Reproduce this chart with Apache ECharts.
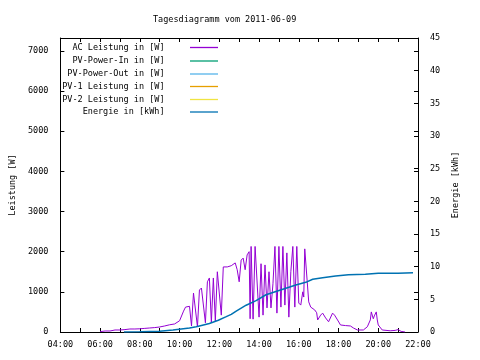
<!DOCTYPE html>
<html><head><meta charset="utf-8">
<script src="https://cdn.jsdelivr.net/npm/echarts@6/dist/echarts.min.js"></script>
<style>html,body{margin:0;padding:0;background:#fff}#c{width:480px;height:360px}</style>
</head><body><div id="c"></div>
<script>
const title = 'Tagesdiagramm vom 2011-06-09';
const seriesNames = ['AC Leistung in [W]','PV-Power-In in [W]','PV-Power-Out in [W]','PV-1 Leistung in [W]','PV-2 Leistung in [W]','Energie in [kWh]'];
const seriesColors = ['#9400d3','#009e73','#56b4e9','#e69f00','#f0e442','#0072b2'];

const acTimes = ['06:00','06:15','06:30','06:45','07:00','07:15','07:30','07:45','08:00','08:15','08:30','08:45','09:00','09:15','09:30','09:45',
'10:00','10:06','10:12','10:18','10:24','10:30','10:36','10:42','10:48','10:54','11:00','11:06','11:12','11:18','11:24','11:30','11:36','11:42','11:48','11:54',
'12:00','12:06','12:12','12:18','12:24','12:30','12:36','12:42','12:48','12:54','13:00','13:06','13:12','13:18','13:24','13:30','13:33','13:36','13:42','13:48','13:54',
'14:00','14:06','14:12','14:18','14:24','14:30','14:36','14:42','14:48','14:54','15:00','15:06','15:12','15:18','15:24','15:30','15:36','15:42','15:48','15:54',
'16:00','16:06','16:12','16:15','16:18','16:24','16:30','16:36','16:42','16:48','16:54','16:57','17:00','17:06','17:12','17:18','17:21','17:30','17:42','17:48','17:57',
'18:06','18:21','18:36','18:45','18:57','19:15','19:27','19:36','19:39','19:45','19:48','19:54','19:57','20:00','20:12','20:36','20:51','21:00','21:09','21:21'];
const acPower = [10,25,25,50,50,60,75,75,80,90,100,110,125,150,180,200,
280,320,520,620,660,640,150,970,1000,130,1045,1095,1120,230,1250,1345,230,1345,270,1500,
1540,420,1620,1600,1620,1640,1650,1670,1720,1550,1250,1790,1840,1550,1920,2000,330,2130,320,2130,2130,
370,1700,420,1670,600,1500,600,1200,2130,470,2130,620,2130,670,1970,370,1500,2130,620,2130,
720,670,1000,870,2070,2070,750,620,600,550,480,300,300,420,470,450,350,255,470,420,300,
175,160,150,100,50,50,130,300,500,330,400,500,300,175,50,30,40,60,15,0];

const energyTimes = ['07:12','08:00','09:00','09:40','10:30','10:50','11:06','11:30','11:57','12:21','12:36','12:51','13:21','13:51','14:21','14:51','15:21','15:51','16:21','16:42','17:12','17:51','18:30','19:21','20:00','21:00','21:45'];
const energyValues = [0,0.02,0.1,0.3,0.6,0.8,1.0,1.3,1.8,2.35,2.7,3.2,4.1,4.8,5.7,6.2,6.7,7.2,7.6,8.07,8.3,8.57,8.77,8.83,8.98,9.0,9.05];

const hourLabels = ['04:00','06:00','08:00','10:00','12:00','14:00','16:00','18:00','20:00','22:00'];

function toH(t){const p=t.split(':');return +p[0]+(+p[1])/60;}
const FONT = 'DejaVu Sans Mono';
const fs = 8.5;

const acData = acTimes.map((t,i)=>[toH(t),acPower[i]]);
const enData = energyTimes.map((t,i)=>[toH(t),energyValues[i]]);

const legendTops = [43,56.5,69.5,82,95,107.5];
const legends = seriesNames.map((n,i)=>({
  data:[{name:n, icon:'rect', itemStyle:{color:seriesColors[i], borderWidth:0}}],
  right:262, top:legendTops[i], align:'right', orient:'vertical', padding:0,
  itemWidth:28, itemHeight:1.3, selectedMode:false,
  textStyle:{fontFamily:FONT,fontSize:fs,color:'#000'},
  formatter: s => s + '    '
}));

const series = seriesNames.map((n,i)=>({
  name:n, type:'line', showSymbol:false, symbol:'none', smooth:false, animation:false,
  yAxisIndex: i===5 ? 1 : 0,
  lineStyle:{color:seriesColors[i], width: i===5?1.5:1},
  itemStyle:{color:seriesColors[i]},
  data: i===0 ? acData : (i===5 ? enData : [])
}));

const tickStyle = {show:true, inside:true, length:4, lineStyle:{color:'#000',width:1}};
const chart = echarts.init(document.getElementById('c'), null, {renderer:'canvas'});
chart.setOption({
  animation:false,
  backgroundColor:'#fff',
  title:{text:title, left:148, top:10, textStyle:{fontFamily:FONT,fontSize:fs,fontWeight:'normal',color:'#000'}},
  legend: legends,
  grid:{left:58,right:62,top:38,bottom:28,show:false},
  xAxis:[{
    type:'value', min:4, max:22, interval:1,
    axisLine:{show:true,onZero:false,lineStyle:{color:'#000',width:1}},
    axisTick:tickStyle, splitLine:{show:false},
    axisLabel:{fontFamily:FONT,fontSize:fs,color:'#000',margin:8,
      formatter:v=>{const h=Math.round(v);return (h%2===0)?hourLabels[(h-4)/2]:'';}}
  },{
    type:'value', min:4, max:22, interval:1, position:'top',
    axisLine:{show:true,onZero:false,lineStyle:{color:'#000',width:1}},
    axisTick:tickStyle, axisLabel:{show:false}, splitLine:{show:false}
  }],
  yAxis:[{
    type:'value', min:0, max:7320, interval:1000, position:'left',
    name:'Leistung [W]', nameLocation:'middle', nameGap:42, nameRotate:90,
    nameTextStyle:{fontFamily:FONT,fontSize:fs,color:'#000'},
    axisLine:{show:true,lineStyle:{color:'#000',width:1}},
    axisTick:tickStyle, splitLine:{show:false},
    axisLabel:{fontFamily:FONT,fontSize:fs,color:'#000',margin:12,
      formatter:v=>(v%1000===0)?String(v):''}
  },{
    type:'value', min:0, max:45, interval:5, position:'right',
    name:'Energie [kWh]', nameLocation:'middle', nameGap:32, nameRotate:90,
    nameTextStyle:{fontFamily:FONT,fontSize:fs,color:'#000'},
    axisLine:{show:true,lineStyle:{color:'#000',width:1}},
    axisTick:tickStyle, splitLine:{show:false},
    axisLabel:{fontFamily:FONT,fontSize:fs,color:'#000',margin:12}
  },{
    type:'value', min:0, max:7320, interval:1000, position:'right',
    axisLine:{show:false}, axisTick:tickStyle, axisLabel:{show:false}, splitLine:{show:false}
  }],
  series: series
});
</script></body></html>
